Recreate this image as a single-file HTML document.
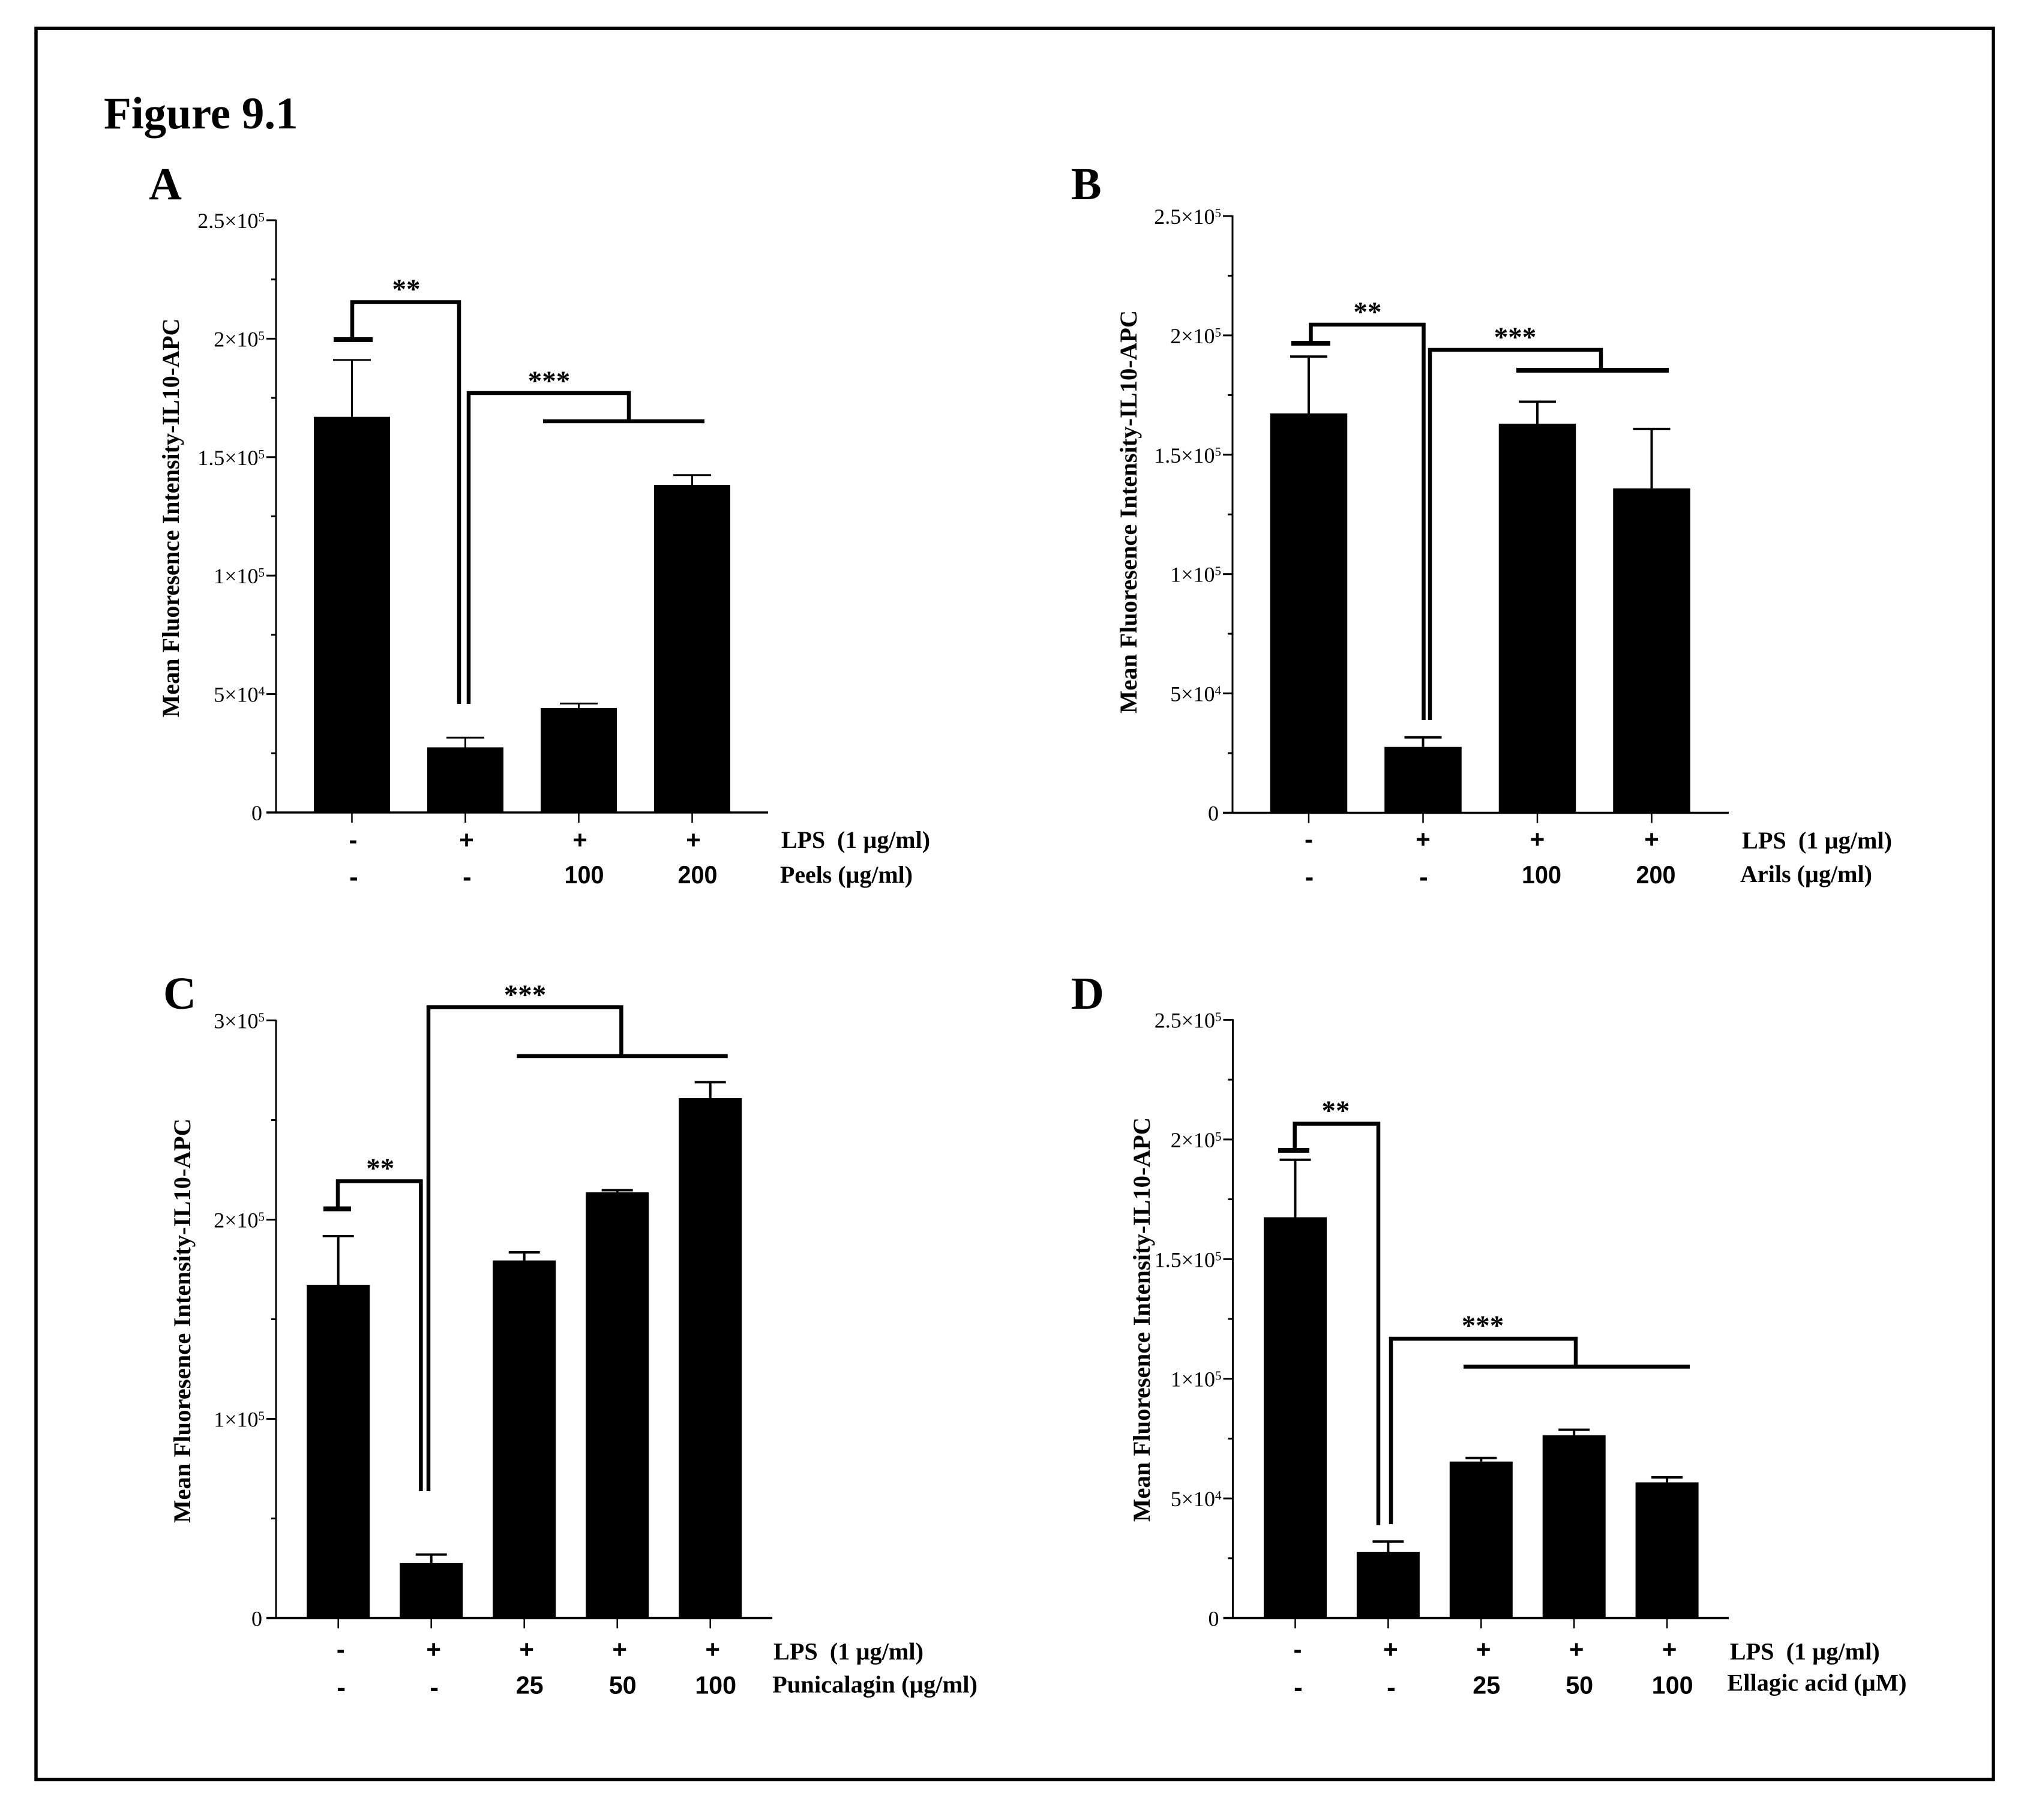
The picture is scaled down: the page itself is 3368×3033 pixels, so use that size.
<!DOCTYPE html>
<html lang="en">
<head>
<meta charset="utf-8">
<title>Figure 9.1</title>
<style>
html,body{margin:0;padding:0;background:#fff;}
body{width:3368px;height:3033px;overflow:hidden;}
svg{display:block;}
text{font-family:"Liberation Serif",serif;fill:#000;}
.sans{font-family:"Liberation Sans",sans-serif;font-weight:bold;}
.b{font-weight:bold;}
.br{fill:none;stroke:#000;stroke-width:6.5;stroke-linejoin:miter;}
.cap{fill:none;stroke:#000;stroke-width:8;}
</style>
</head>
<body>
<svg id="fig" width="3368" height="3033" viewBox="0 0 3368 3033" xmlns="http://www.w3.org/2000/svg">
  <rect x="0" y="0" width="3368" height="3033" fill="#fff"/>
  <rect x="60" y="47.300" width="3262" height="2918.200" fill="none" stroke="#000" stroke-width="5.500"/>
  <text x="173" y="214" font-size="75" class="b">Figure 9.1</text>
  <text x="248" y="332" font-size="76" class="b">A</text>
  <text x="1785" y="332" font-size="76" class="b">B</text>
  <text x="272" y="1681" font-size="76" class="b">C</text>
  <text x="1785" y="1681" font-size="76" class="b">D</text>

  <g>
    <path class="cap" d="M556 566H621"/>
    <path class="br" d="M587 562V503.500H765V1173"/>
    <path class="br" d="M781 1173V655H1048V702"/>
    <path class="br" d="M905 702H1174"/>
    <text x="677" y="497" font-size="47" text-anchor="middle" class="b">**</text>
    <text x="915" y="650" font-size="47" text-anchor="middle" class="b">***</text>
  </g>
  <g>
    <path class="cap" d="M2152 572H2217"/>
    <path class="br" d="M2184.500 570V541H2372.500V1200"/>
    <path class="br" d="M2383 1200V583H2668V617"/>
    <path class="cap" d="M2527 617H2781"/>
    <text x="2279" y="535" font-size="47" text-anchor="middle" class="b">**</text>
    <text x="2525" y="577" font-size="47" text-anchor="middle" class="b">***</text>
  </g>
  <g>
    <path class="cap" d="M539 2014.500H585"/>
    <path class="br" d="M563 2012V1968.500H701.400V2485"/>
    <path class="br" d="M714 2485V1678.500H1035.400V1760"/>
    <path class="br" d="M861.400 1760H1212.700"/>
    <text x="633.700" y="1962" font-size="47" text-anchor="middle" class="b">**</text>
    <text x="875" y="1673" font-size="47" text-anchor="middle" class="b">***</text>
  </g>
  <g>
    <path class="cap" d="M2130 1917H2182"/>
    <path class="br" d="M2157.700 1915V1872.600H2297V2541.500"/>
    <path class="br" d="M2318 2540V2231H2626V2277.500"/>
    <path class="br" d="M2439 2277.500H2816"/>
    <text x="2226" y="1866" font-size="47" text-anchor="middle" class="b">**</text>
    <text x="2471" y="2224" font-size="47" text-anchor="middle" class="b">***</text>
  </g>
</svg>
<script>
/* Panel A */
const valuesA = [167000, 27500, 44100, 138300];
const errorTopsA = [191000, 31600, 46000, 142400];
const lpsRowA = ['-', '+', '+', '+'];
const doseRowA = ['-', '-', '100', '200'];

/* Panel B */
const valuesB = [167300, 27600, 163000, 135900];
const errorTopsB = [191100, 31600, 172200, 160800];
const lpsRowB = ['-', '+', '+', '+'];
const doseRowB = ['-', '-', '100', '200'];

/* Panel C */
const valuesC = [167300, 27600, 179500, 213700, 261000];
const errorTopsC = [191700, 31900, 183600, 214800, 269000];
const lpsRowC = ['-', '+', '+', '+', '+'];
const doseRowC = ['-', '-', '25', '50', '100'];

/* Panel D */
const valuesD = [167500, 27700, 65400, 76400, 56700];
const errorTopsD = [191500, 32000, 66900, 78700, 58800];
const lpsRowD = ['-', '+', '+', '+', '+'];
const doseRowD = ['-', '-', '25', '50', '100'];

/* Y axes */
const ticks25 = [0, 50000, 100000, 150000, 200000, 250000];
const tickLabels25 = ['0', '5×10', '1×10', '1.5×10', '2×10', '2.5×10'];
const tickExps25 = ['', '4', '5', '5', '5', '5'];
const minorTicks25 = [25000, 75000, 125000, 175000, 225000];
const ticks30 = [0, 100000, 200000, 300000];
const tickLabels30 = ['0', '1×10', '2×10', '3×10'];
const tickExps30 = ['', '5', '5', '5'];
const minorTicks30 = [50000, 150000, 250000];

const yTitle = 'Mean Fluoresence Intensity-IL10-APC';
const NS = 'http://www.w3.org/2000/svg';
const fig = document.getElementById('fig');

function make(tag, parent, attrs, txt) {
  const n = document.createElementNS(NS, tag);
  for (const k in attrs) n.setAttribute(k, attrs[k]);
  if (txt !== undefined) n.textContent = txt;
  parent.appendChild(n);
  return n;
}

function drawPanel(p) {
  const g = make('g', fig, {});
  
  

  const yScale = v => p.y0 - (v / p.yMax) * (p.y0 - p.yTop);
  const xScale = i => p.first + i * p.step;

  p.values.forEach((v, i) => {
    const cx = xScale(i);
    const stem = make('line', g, {x1: cx, x2: cx, y1: yScale(v), y2: yScale(p.errors[i]), stroke: '#000', 'stroke-width': p.errW});
    
    
    const cap = make('line', g, {x1: cx - p.capW / 2, x2: cx + p.capW / 2, y1: yScale(p.errors[i]), y2: yScale(p.errors[i]), stroke: '#000', 'stroke-width': p.errW});
    
    
    const bar = make('rect', g, {x: cx - p.barW / 2, y: yScale(v), width: p.barW, height: p.y0 - yScale(v), fill: '#000'});
    
    
    const xTick = make('line', g, {x1: cx, x2: cx, y1: p.y0, y2: p.y0 + 17, stroke: '#000', 'stroke-width': 2.5});
    
    
    const sign = make('text', g, {x: cx + p.signDx, y: p.row1Y, 'font-size': 42, 'text-anchor': 'middle', class: 'sans'}, p.lps[i]);
    
    
    const isNum = p.dose[i] !== '-';
    const dose = make('text', g, {x: cx + (isNum ? p.numDx : p.signDx + 1), y: isNum ? p.row2Y : p.row2Y + 4, 'font-size': isNum ? 42 : 44, 'text-anchor': 'middle', class: 'sans'}, p.dose[i]);
    if (isNum) {
      dose.setAttribute('textLength', p.dose[i].length * p.numW);
      dose.setAttribute('lengthAdjust', 'spacingAndGlyphs');
    }
    
    
  });

  const yAxis = make('line', g, {x1: p.axisX, x2: p.axisX, y1: p.yTop - 1, y2: p.y0, stroke: '#000', 'stroke-width': 3});
  
  
  const xAxis = make('line', g, {x1: p.axisX - 16, x2: p.axisEnd, y1: p.y0, y2: p.y0, stroke: '#000', 'stroke-width': 3.5});
  
  

  p.ticks.forEach((t, i) => {
    const yy = yScale(t);
    if (t !== 0) {
      const major = make('line', g, {x1: p.axisX - 16, x2: p.axisX, y1: yy, y2: yy, stroke: '#000', 'stroke-width': 3});
      
      
    }
    const label = make('text', g, {x: p.axisX - (p.tickExps[i] ? 19 : 23), y: yy + 13, 'font-size': 36, 'text-anchor': 'end'}, p.tickLabels[i]);
    
    
    if (p.tickExps[i]) {
      const sup = make('tspan', label, {dy: -11, 'font-size': 21}, p.tickExps[i]);
      
      
    }
  });
  p.minor.forEach(t => {
    const minor = make('line', g, {x1: p.axisX - 8, x2: p.axisX, y1: yScale(t), y2: yScale(t), stroke: '#000', 'stroke-width': 3});
    
    
  });

  const title = make('text', g, {x: 0, y: 0, 'font-size': 40, class: 'b', 'text-anchor': 'middle', textLength: p.titleLen, lengthAdjust: 'spacingAndGlyphs', transform: 'translate(' + p.titleX + ' ' + p.titleY + ') rotate(-90)'}, yTitle);
  
  

  const lpsName = make('text', g, {x: p.lpsX, y: p.lpsY, 'font-size': 40, class: 'b', textLength: p.lpsLen, lengthAdjust: 'spacingAndGlyphs', style: 'white-space:pre'}, 'LPS  (1 µg/ml)');
  
  
  const doseName = make('text', g, {x: p.doseX, y: p.doseY, 'font-size': 40, class: 'b', textLength: p.doseLen, lengthAdjust: 'spacingAndGlyphs'}, p.doseName);
  
  
}

drawPanel({values: valuesA, errors: errorTopsA, lps: lpsRowA, dose: doseRowA, ticks: ticks25, tickLabels: tickLabels25, tickExps: tickExps25, minor: minorTicks25, yMax: 250000,
  axisX: 460, axisEnd: 1280, yTop: 367, y0: 1354, first: 586.5, step: 189, barW: 127, capW: 63, errW: 3,
  signDx: 2, numDx: 9, numW: 22, row1Y: 1414, row2Y: 1472, titleX: 298, titleY: 863, titleLen: 665,
  lpsX: 1302, lpsY: 1413, lpsLen: 248, doseX: 1300, doseY: 1471, doseLen: 221, doseName: 'Peels (µg/ml)'});

drawPanel({values: valuesB, errors: errorTopsB, lps: lpsRowB, dose: doseRowB, ticks: ticks25, tickLabels: tickLabels25, tickExps: tickExps25, minor: minorTicks25, yMax: 250000,
  axisX: 2054, axisEnd: 2881, yTop: 360, y0: 1354.5, first: 2181, step: 190.5, barW: 128.5, capW: 62, errW: 4,
  signDx: 0, numDx: 7, numW: 22, row1Y: 1413, row2Y: 1472, titleX: 1894, titleY: 853, titleLen: 672,
  lpsX: 2903, lpsY: 1414, lpsLen: 250, doseX: 2900, doseY: 1470, doseLen: 220, doseName: 'Arils (µg/ml)'});

drawPanel({values: valuesC, errors: errorTopsC, lps: lpsRowC, dose: doseRowC, ticks: ticks30, tickLabels: tickLabels30, tickExps: tickExps30, minor: minorTicks30, yMax: 300000,
  axisX: 460, axisEnd: 1287, yTop: 1700.5, y0: 2696.5, first: 563.7, step: 155, barW: 105, capW: 52, errW: 4,
  signDx: 4, numDx: 9, numW: 23, row1Y: 2763, row2Y: 2822.5, titleX: 317, titleY: 2201, titleLen: 674,
  lpsX: 1289, lpsY: 2765.7, lpsLen: 250, doseX: 1287, doseY: 2820.5, doseLen: 342, doseName: 'Punicalagin (µg/ml)'});

drawPanel({values: valuesD, errors: errorTopsD, lps: lpsRowD, dose: doseRowD, ticks: ticks25, tickLabels: tickLabels25, tickExps: tickExps25, minor: minorTicks25, yMax: 250000,
  axisX: 2054.500, axisEnd: 2881, yTop: 1699.5, y0: 2696.5, first: 2158.500, step: 154.9, barW: 105, capW: 52, errW: 4,
  signDx: 4, numDx: 9, numW: 23, row1Y: 2763, row2Y: 2822.5, titleX: 1916, titleY: 2199, titleLen: 674,
  lpsX: 2882.7, lpsY: 2765.7, lpsLen: 250, doseX: 2878.4, doseY: 2817.7, doseLen: 299, doseName: 'Ellagic acid (µM)'});
</script>
</body>
</html>
